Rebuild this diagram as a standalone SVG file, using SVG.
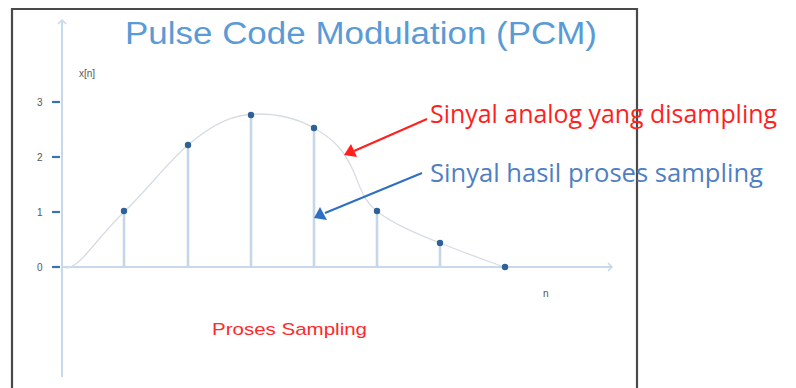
<svg xmlns="http://www.w3.org/2000/svg" width="796" height="388" viewBox="0 0 796 388">
<style>
.frame{fill:none;stroke:#4a4a4a;stroke-width:2.2}
.axis{fill:none;stroke:#c7d9ec;stroke-width:2}
.tick{stroke:#3a72b0;stroke-width:2.2}
.stem{stroke:#c6d6e6;stroke-width:2.6}
.dot{fill:#2f6199}
.curve{fill:none;stroke:#d6dce3;stroke-width:1.3}
.lbl{font-family:"Liberation Sans",Arial,sans-serif;font-size:10px;fill:#555}
.title{font-family:"Liberation Sans",Arial,sans-serif;font-size:31px;fill:#5b9bd5}
.ann{font-family:"Open Sans","Liberation Sans",sans-serif;font-size:25px}
.red{fill:#ff1f1f}
.blue{fill:#4f7fc2}
</style>
<rect x="0" y="0" width="796" height="388" fill="#ffffff"/>
<path class="frame" d="M12,388 V9 H637 V388"/>
<g id="title"><text class="title" x="125" y="44" textLength="472" lengthAdjust="spacingAndGlyphs">Pulse Code Modulation (PCM)</text></g>
<g id="axes">
<line class="axis" x1="62" y1="20" x2="62" y2="377"/>
<line class="axis" x1="62" y1="267" x2="612" y2="267"/>
<path d="M608,263 L612,267 L608,271" fill="none" stroke="#c7d9ec" stroke-width="1.5"/>
<path d="M58,24 L62,20 L66,24" fill="none" stroke="#c7d9ec" stroke-width="1.5"/>
<line class="tick" x1="52" y1="102" x2="60" y2="102"/>
<line class="tick" x1="52" y1="157" x2="60" y2="157"/>
<line class="tick" x1="52" y1="212" x2="60" y2="212"/>
<line class="tick" x1="52" y1="267" x2="60" y2="267"/>
<text class="lbl" x="37" y="106">3</text>
<text class="lbl" x="37" y="161">2</text>
<text class="lbl" x="37" y="216">1</text>
<text class="lbl" x="37" y="271">0</text>
<text class="lbl" x="79" y="77">x[n]</text>
<text class="lbl" x="543" y="297">n</text>
</g>
<g id="analog-signal"><path class="curve" d="M66,268 C80,268 95,240 124,212 C150,187 165,165 188,145 C215,122 235,114 258,114 C280,114 300,120 314,128 C335,140 343,150 352,168 C360,185 362,200 378,212 C395,225 420,235 440,243 C465,253 485,260 504,267"/></g>
<g id="samples">
<line class="stem" x1="124" y1="212" x2="124" y2="267"/>
<line class="stem" x1="188" y1="145" x2="188" y2="267"/>
<line class="stem" x1="251" y1="115" x2="251" y2="267"/>
<line class="stem" x1="314" y1="128" x2="314" y2="267"/>
<line class="stem" x1="377" y1="211" x2="377" y2="267"/>
<line class="stem" x1="440" y1="243" x2="440" y2="267"/>
<circle class="dot" cx="124" cy="211" r="3.2"/>
<circle class="dot" cx="188" cy="145" r="3.2"/>
<circle class="dot" cx="251" cy="115" r="3.2"/>
<circle class="dot" cx="314" cy="128" r="3.2"/>
<circle class="dot" cx="377" cy="211" r="3.2"/>
<circle class="dot" cx="440" cy="243" r="3.2"/>
<circle class="dot" cx="505" cy="267" r="3.2"/>
</g>
<g id="label-analog"><text class="ann red" x="430" y="123" textLength="347" lengthAdjust="spacingAndGlyphs">Sinyal analog yang disampling</text></g>
<g id="label-sampled"><text class="ann blue" x="430" y="182" textLength="333" lengthAdjust="spacingAndGlyphs">Sinyal hasil proses sampling</text></g>
<g id="caption"><text x="212" y="335" font-family="Liberation Sans,Arial,sans-serif" font-size="17" fill="#ff2a2a" textLength="155" lengthAdjust="spacingAndGlyphs">Proses Sampling</text></g>
<g id="connectors">
<line x1="427" y1="119" x2="354" y2="151" stroke="#ff1f1f" stroke-width="2"/>
<polygon points="344,155 351,144 357,157" fill="#ff1f1f"/>
<line x1="422" y1="173" x2="325" y2="213" stroke="#2e6fc4" stroke-width="2"/>
<polygon points="314,218 320,207 327,220" fill="#2e6fc4"/>
</g>
</svg>
